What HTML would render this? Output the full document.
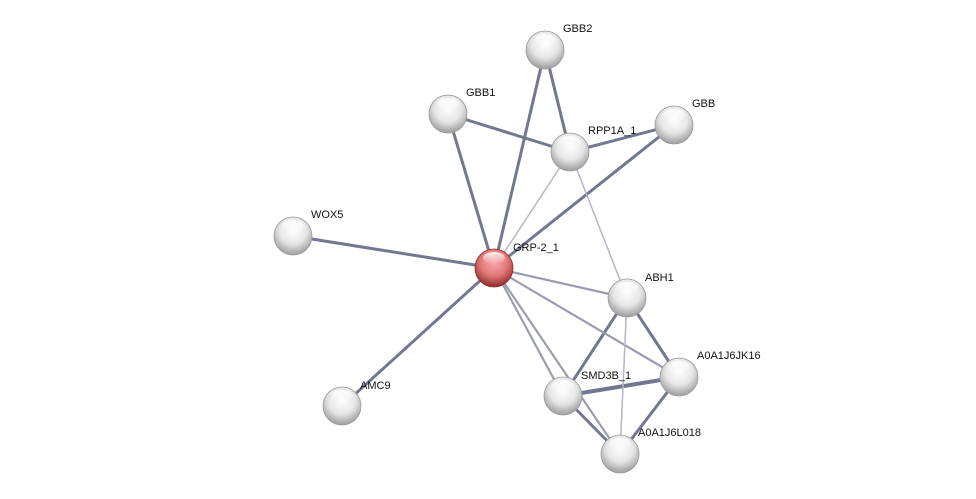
<!DOCTYPE html>
<html><head><meta charset="utf-8"><style>
html,body{margin:0;padding:0;background:#fff;width:976px;height:499px;overflow:hidden}
text{font-family:"Liberation Sans",sans-serif;font-size:11px;fill:#111}
</style></head><body>
<svg width="976" height="499" viewBox="0 0 976 499" xmlns="http://www.w3.org/2000/svg">
<defs>
<radialGradient id="g" cx="50%" cy="35%" r="60%">
<stop offset="0" stop-color="#ffffff"/><stop offset="0.6" stop-color="#e6e6e6"/><stop offset="1" stop-color="#a8a8a8"/>
</radialGradient>
<radialGradient id="r" cx="50%" cy="35%" r="60%">
<stop offset="0" stop-color="#f7a8a8"/><stop offset="0.6" stop-color="#e07878"/><stop offset="1" stop-color="#a03838"/>
</radialGradient>
<linearGradient id="hl" x1="0" y1="0" x2="0" y2="1">
<stop offset="0" stop-color="#fff" stop-opacity="0.9"/><stop offset="1" stop-color="#fff" stop-opacity="0"/>
</linearGradient>
</defs>
<g stroke-linecap="round">
<g stroke="#737891" stroke-width="3">
<line x1="545" y1="50" x2="570" y2="152"/>
<line x1="545" y1="50" x2="494" y2="268"/>
<line x1="448" y1="114" x2="570" y2="152"/>
<line x1="448" y1="114" x2="494" y2="268"/>
<line x1="570" y1="152" x2="674" y2="125"/>
<line x1="674" y1="125" x2="494" y2="268"/>
<line x1="293" y1="236" x2="494" y2="268"/>
<line x1="342" y1="406" x2="494" y2="268"/>
<line x1="627" y1="298" x2="563" y2="396"/>
<line x1="627" y1="298" x2="679" y2="377"/>
<line x1="563" y1="396" x2="679" y2="377" stroke-width="4"/>
<line x1="563" y1="396" x2="620" y2="454"/>
<line x1="679" y1="377" x2="620" y2="454"/>
</g>
<g stroke="#9a9db0" stroke-width="2.2">
<line x1="494" y1="268" x2="627" y2="298"/>
<line x1="494" y1="268" x2="679" y2="377"/>
<line x1="494" y1="268" x2="563" y2="396"/>
<line x1="494" y1="268" x2="620" y2="454"/>
</g>
<g stroke="#b4b7c6" stroke-width="1.5">
<line x1="570" y1="152" x2="494" y2="268"/>
<line x1="570" y1="152" x2="627" y2="298"/>
<line x1="627" y1="298" x2="620" y2="454"/>
</g>
</g>
<g>
<g transform="translate(545,50)"><circle r="19" fill="url(#g)" stroke="#999" stroke-width="0.8"/><ellipse cx="0" cy="-10" rx="11" ry="6" fill="url(#hl)"/></g>
<g transform="translate(448,114)"><circle r="19" fill="url(#g)" stroke="#999" stroke-width="0.8"/><ellipse cx="0" cy="-10" rx="11" ry="6" fill="url(#hl)"/></g>
<g transform="translate(570,152)"><circle r="19" fill="url(#g)" stroke="#999" stroke-width="0.8"/><ellipse cx="0" cy="-10" rx="11" ry="6" fill="url(#hl)"/></g>
<g transform="translate(674,125)"><circle r="19" fill="url(#g)" stroke="#999" stroke-width="0.8"/><ellipse cx="0" cy="-10" rx="11" ry="6" fill="url(#hl)"/></g>
<g transform="translate(293,236)"><circle r="19" fill="url(#g)" stroke="#999" stroke-width="0.8"/><ellipse cx="0" cy="-10" rx="11" ry="6" fill="url(#hl)"/></g>
<g transform="translate(494,268)"><circle r="19" fill="url(#r)" stroke="#8a2a2a" stroke-width="0.8"/><ellipse cx="0" cy="-10" rx="11" ry="6" fill="url(#hl)"/></g>
<g transform="translate(627,298)"><circle r="19" fill="url(#g)" stroke="#999" stroke-width="0.8"/><ellipse cx="0" cy="-10" rx="11" ry="6" fill="url(#hl)"/></g>
<g transform="translate(679,377)"><circle r="19" fill="url(#g)" stroke="#999" stroke-width="0.8"/><ellipse cx="0" cy="-10" rx="11" ry="6" fill="url(#hl)"/></g>
<g transform="translate(563,396)"><circle r="19" fill="url(#g)" stroke="#999" stroke-width="0.8"/><ellipse cx="0" cy="-10" rx="11" ry="6" fill="url(#hl)"/></g>
<g transform="translate(342,406)"><circle r="19" fill="url(#g)" stroke="#999" stroke-width="0.8"/><ellipse cx="0" cy="-10" rx="11" ry="6" fill="url(#hl)"/></g>
<g transform="translate(620,454)"><circle r="19" fill="url(#g)" stroke="#999" stroke-width="0.8"/><ellipse cx="0" cy="-10" rx="11" ry="6" fill="url(#hl)"/></g>
</g>
<text x="563" y="32">GBB2</text>
<text x="466" y="96">GBB1</text>
<text x="588" y="134">RPP1A_1</text>
<text x="692" y="107">GBB</text>
<text x="311" y="218">WOX5</text>
<text x="513" y="251">GRP-2_1</text>
<text x="645" y="281">ABH1</text>
<text x="697" y="359">A0A1J6JK16</text>
<text x="581" y="379">SMD3B_1</text>
<text x="360" y="389">AMC9</text>
<text x="638" y="436">A0A1J6L018</text>
</svg>
</body></html>
